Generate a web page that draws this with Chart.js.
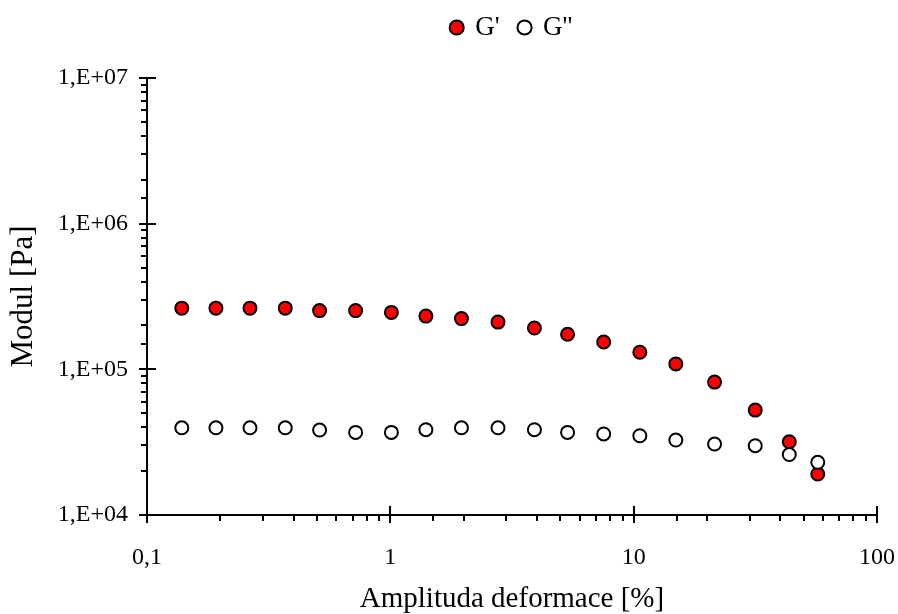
<!DOCTYPE html>
<html>
<head>
<meta charset="utf-8">
<script src="https://cdn.jsdelivr.net/npm/chart.js@4/dist/chart.umd.min.js"></script>
<style>
  html, body { margin: 0; padding: 0; background: #fff; }
  #wrap { width: 898px; height: 614px; }
</style>
</head>
<body>
<div id="wrap"><canvas id="c" width="898" height="614"></canvas></div>
<script>
// Strain amplitude sweep: storage (G') and loss (G'') modulus
const strain = [0.139, 0.192, 0.265, 0.370, 0.512, 0.720, 1.01, 1.40, 1.96, 2.77,
                3.91, 5.35, 7.53, 10.6, 14.9, 21.5, 31.6, 43.6, 57.1];
const gPrime = [263000, 263000, 263000, 263000, 253000, 253000, 246000, 232000, 223000, 211000,
                192000, 174000, 154000, 131000, 109000, 81700, 52500, 31800, 19100];
const gDoublePrime = [39700, 39700, 39700, 39700, 38300, 36900, 36900, 38500, 39700, 39700,
                      38500, 36900, 36000, 35000, 32700, 30700, 29900, 26000, 23000];

const seriesNames = ["G'", "G''"];
const xTickLabels = { "0.1": "0,1", "1": "1", "10": "10", "100": "100" };
const xTitle = "Amplituda deformace [%]";
const yTitle = "Modul [Pa]";

const FONT = "'Liberation Serif', 'Times New Roman', serif";

const isDecade = v => Math.abs(Math.log10(v) - Math.round(Math.log10(v))) < 1e-9;

const toPoints = ys => strain.map((x, i) => ({ x: x, y: ys[i] }));

// Tick marks: decades cross the axis, intermediate ticks sit outside
const tickMarks = {
  id: 'tickMarks',
  afterDraw(chart) {
    const ctx = chart.ctx;
    const xs = chart.scales.x, ys = chart.scales.y;
    ctx.save();
    ctx.strokeStyle = '#000';
    ctx.lineWidth = 2;
    xs.ticks.forEach(t => {
      const p = Math.round(xs.getPixelForValue(t.value));
      const major = isDecade(t.value);
      ctx.beginPath();
      ctx.moveTo(p, ys.bottom + (major ? 8 : 6));
      ctx.lineTo(p, major ? ys.bottom - 9 : ys.bottom);
      ctx.stroke();
    });
    ys.ticks.forEach(t => {
      const p = Math.round(ys.getPixelForValue(t.value));
      const major = isDecade(t.value);
      ctx.beginPath();
      ctx.moveTo(xs.left - (major ? 8 : 6), p);
      ctx.lineTo(major ? xs.left + 9 : xs.left, p);
      ctx.stroke();
    });
    ctx.restore();
  }
};

// Lift the legend row clear of the plot area
const legendLift = {
  id: 'legendLift',
  afterLayout(chart) {
    const lg = chart.legend;
    if (!lg) return;
    const dy = 27;
    lg.top -= dy;
    lg.bottom -= dy;
    (lg.legendHitBoxes || []).forEach(h => { h.top -= dy; });
  }
};

new Chart(document.getElementById('c'), {
  type: 'scatter',
  data: {
    datasets: [
      {
        label: seriesNames[0],
        data: toPoints(gPrime),
        backgroundColor: '#ff0000',
        borderColor: '#000',
        borderWidth: 2,
        pointBackgroundColor: '#ff0000',
        pointBorderColor: '#000',
        pointBorderWidth: 2,
        pointRadius: 6.5,
        pointHoverRadius: 6.5,
        order: 1
      },
      {
        label: seriesNames[1],
        data: toPoints(gDoublePrime),
        backgroundColor: '#ffffff',
        borderColor: '#000',
        borderWidth: 2,
        pointBackgroundColor: '#ffffff',
        pointBorderColor: '#000',
        pointBorderWidth: 2,
        pointRadius: 6.5,
        pointHoverRadius: 6.5,
        order: 0
      }
    ]
  },
  options: {
    responsive: false,
    animation: false,
    events: [],
    layout: { padding: { top: -4, left: 0, right: 21, bottom: 0 } },
    plugins: {
      tooltip: { enabled: false },
      legend: {
        position: 'top',
        fullSize: false,
        labels: {
          usePointStyle: true,
          boxWidth: 10,
          boxHeight: 10,
          padding: 20,
          color: '#000',
          font: { family: FONT, size: 27 },
          sort: (a, b) => a.datasetIndex - b.datasetIndex
        }
      }
    },
    scales: {
      x: {
        type: 'logarithmic',
        position: 'bottom',
        min: 0.1,
        max: 100,
        border: { display: true, color: '#000', width: 2 },
        grid: { display: false, drawTicks: false },
        afterFit(scale) {
          scale.height = 99;
          scale.paddingLeft = 0;
          scale.paddingRight = 0;
        },
        ticks: {
          autoSkip: false,
          maxRotation: 0,
          padding: 28,
          color: '#000',
          font: { family: FONT, size: 24 },
          callback: v => (isDecade(v) ? (xTickLabels[String(+v.toPrecision(6))] || '') : '')
        },
        title: {
          display: true,
          text: xTitle,
          color: '#000',
          padding: { top: 0, bottom: -3 },
          font: { family: FONT, size: 29 }
        }
      },
      y: {
        type: 'logarithmic',
        position: 'left',
        min: 1e4,
        max: 1e7,
        border: { display: true, color: '#000', width: 2 },
        grid: { display: false, drawTicks: false },
        afterFit(scale) {
          scale.width = 147;
          scale.paddingTop = 78;
          scale.paddingBottom = 0;
        },
        ticks: {
          autoSkip: false,
          padding: 19,
          color: '#000',
          font: { family: FONT, size: 24 },
          callback: v => {
            if (!isDecade(v)) return '';
            const e = Math.round(Math.log10(v));
            return '1,E+' + String(e).padStart(2, '0');
          }
        },
        title: {
          display: true,
          text: yTitle,
          color: '#000',
          padding: { top: 5, bottom: 0 },
          font: { family: FONT, size: 31 }
        }
      }
    }
  },
  plugins: [tickMarks, legendLift]
});
</script>
</body>
</html>
